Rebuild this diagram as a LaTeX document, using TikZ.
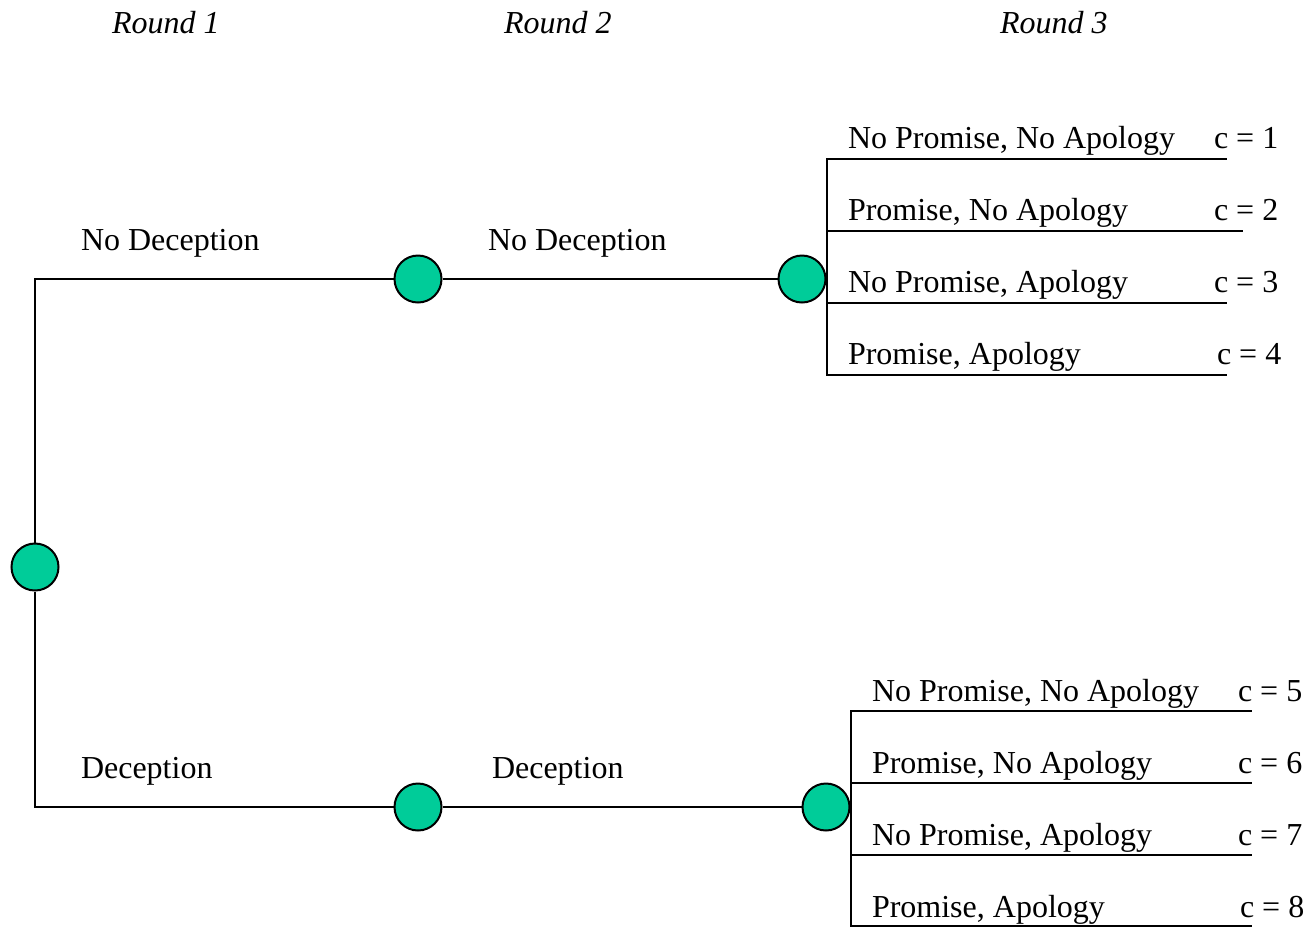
\documentclass[tikz,border=0pt]{standalone}
\usepackage{fontspec}
\setmainfont{Liberation Serif}
\definecolor{chance}{HTML}{00CC99}
\begin{document}
\begin{tikzpicture}[x=0.5pt,y=-0.5pt,line width=1pt,draw=black]
	\def \toprow{279}
	\def \botrow{807}
	\tikzstyle{c-node}=[circle,draw=black,fill=chance,line width=1pt,inner sep=0pt,minimum size=23.5pt]
	\tikzstyle{annot}=[anchor=base west,inner sep=0pt,font=\fontsize{16}{19}\selectfont]
	\tikzstyle{r-label}=[annot,font=\fontsize{16}{19}\selectfont\itshape]
	\tikzstyle{elbow}=[to path={|- (\tikztotarget)}]
	\useasboundingbox (0,0) rectangle (1307,928);
	% rounds
	\node[r-label] (round1) at (111,33) {Round 1};
	\node[r-label] (round2) at (503,33) {Round 2};
	\node[r-label] (round3) at (999,33) {Round 3};
	
	% chance nodes
	\node[c-node] 	(n0)	at (35,567)		{};
	\node[c-node] 	(n1)	at (418,\toprow)	{};
	\node[c-node] 	(n2)	at (802,\toprow)	{};
	\node[c-node] 	(n3)	at (418,\botrow)	{};
	\node[c-node] 	(n4)	at (826,\botrow)	{};
	
	% branch labels
	\node[annot] 	(nd1)	at (80,250)		{No Deception};
	\node[annot] 	(nd2)	at (487,250)	{No Deception};
	\node[annot] 	(d1)	at (80,778)		{Deception};
	\node[annot] 	(d2)	at (491,778)	{Deception};
	
	% round 3, no deception
	\coordinate (te1) at (1227,159);
	\coordinate (te2) at (1243,231);
	\coordinate (te3) at (1227,303);
	\coordinate (te4) at (1227,375);
	\node[annot] 	(tl1)	at (847,148)	{No Promise, No Apology};
	\node[annot] 	(tl2)	at (847,220)	{Promise, No Apology};
	\node[annot] 	(tl3)	at (847,292)	{No Promise, Apology};
	\node[annot] 	(tl4)	at (847,364)	{Promise, Apology};
	\node[annot] 	(tc1)	at (1213,148)	{c = 1};
	\node[annot] 	(tc2)	at (1213,220)	{c = 2};
	\node[annot] 	(tc3)	at (1213,292)	{c = 3};
	\node[annot] 	(tc4)	at (1216,364)	{c = 4};
	
	% round 3, deception
	\coordinate (be1) at (1252,711);
	\coordinate (be2) at (1252,783);
	\coordinate (be3) at (1252,855);
	\coordinate (be4) at (1252,926);
	\node[annot] 	(bl1)	at (871,701)	{No Promise, No Apology};
	\node[annot] 	(bl2)	at (871,773)	{Promise, No Apology};
	\node[annot] 	(bl3)	at (871,845)	{No Promise, Apology};
	\node[annot] 	(bl4)	at (871,917)	{Promise, Apology};
	\node[annot] 	(bc1)	at (1237,701)	{c = 5};
	\node[annot] 	(bc2)	at (1237,773)	{c = 6};
	\node[annot] 	(bc3)	at (1237,845)	{c = 7};
	\node[annot] 	(bc4)	at (1239,917)	{c = 8};
	
	\path
		(n0)	edge[elbow]	(n1)
		(n0)	edge[elbow]	(n3)
		(n1)	edge		(n2)
		(n3)	edge		(n4)
		%
		(n2.east)	edge[elbow]	(te1)
		(n2.east)	edge[elbow]	(te2)
		(n2.east)	edge[elbow]	(te3)
		(n2.east)	edge[elbow]	(te4)
		%
		(n4.east)	edge[elbow]	(be1)
		(n4.east)	edge[elbow]	(be2)
		(n4.east)	edge[elbow]	(be3)
		(n4.east)	edge[elbow]	(be4);
		
\end{tikzpicture}
\end{document}
